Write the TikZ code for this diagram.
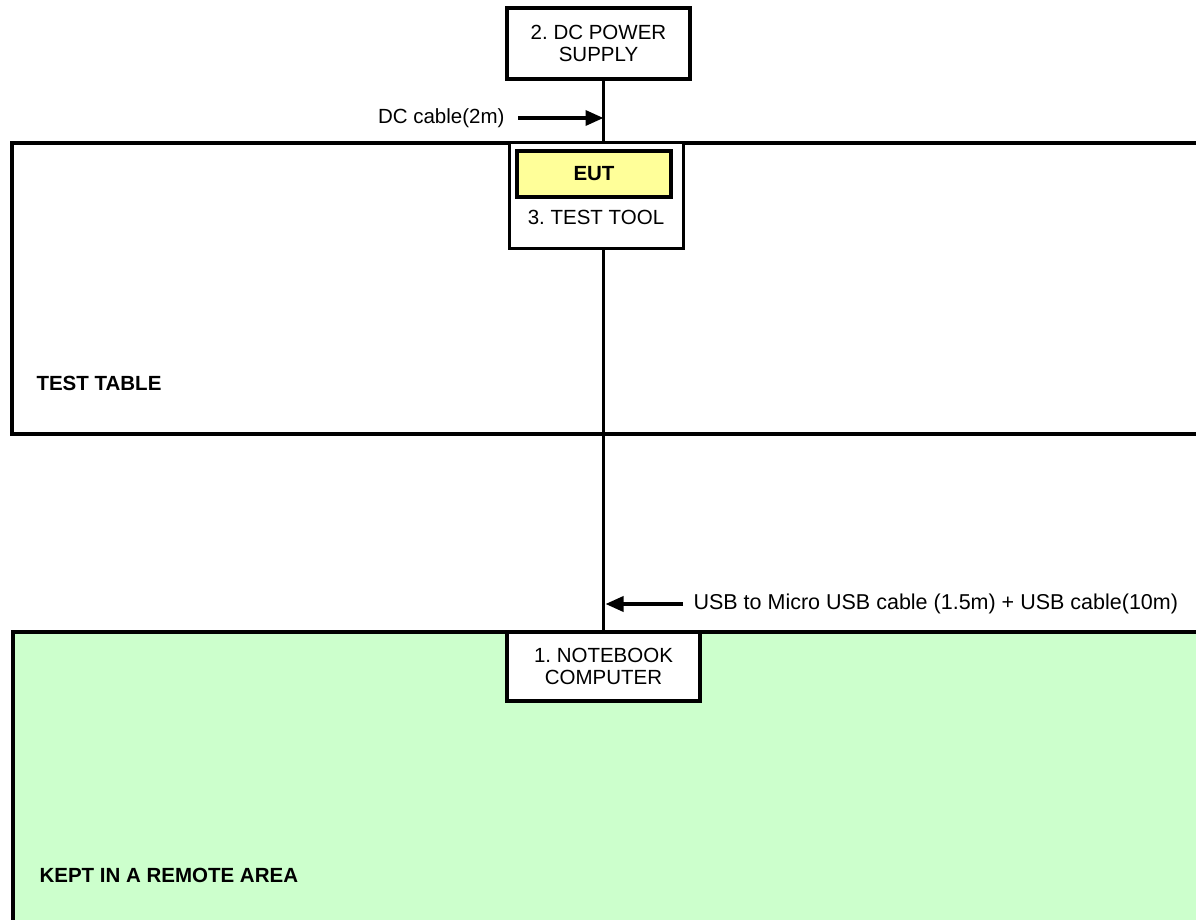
\documentclass[tikz,border=0pt]{standalone}
\usepackage{fontspec}
\setmainfont{Liberation Sans}
\usetikzlibrary{arrows.meta}
\definecolor{remotegreen}{HTML}{CCFFCC}
\definecolor{eutyellow}{HTML}{FFFF99}
\begin{document}
\frenchspacing
\begin{tikzpicture}[x=1pt,y=-1pt,
  every node/.style={font=\fontsize{20.5}{22}\selectfont},
  area/.style={line width=4.5pt},
  unitbox/.style={draw,line width=4pt,fill=white,inner sep=0pt,align=center},
  cable/.style={line width=3.5pt},
  pointer/.style={line width=3.5pt,-{Triangle[length=18pt,width=15pt]}},
  boldlabel/.style={font=\fontsize{20.5}{22}\selectfont\bfseries}]
\useasboundingbox (0,0) rectangle (1196,920);
\clip (0,0) rectangle (1196,920);
% areas
\draw[area] (12,143) rectangle (1215,434);
\draw[area,fill=remotegreen] (13,632) rectangle (1215,940);
\node[boldlabel,anchor=west] (tablelbl) at (33,383) {TEST TABLE};
\node[boldlabel,anchor=west] (remotelbl) at (36,875) {KEPT IN A REMOTE AREA};
% units
\node[unitbox,minimum width=183pt,minimum height=71pt] (ps) at (598.5,43.5) {2. DC POWER\\SUPPLY};
\node[unitbox,line width=3pt,minimum width=174pt,minimum height=105pt] (tool) at (596,195.5) {};
\node[unitbox,fill=eutyellow,minimum width=154pt,minimum height=46pt,font=\fontsize{20.5}{22}\selectfont\bfseries] (eut) at (594,174) {EUT};
\node (tooltxt) at (596,217) {3. TEST TOOL};
\node[unitbox,minimum width=193pt,minimum height=69pt] (nb) at (603.5,666.5) {1. NOTEBOOK\\COMPUTER};
% cables
\draw[cable] (ps.south -| nb.north) -- (tool.north -| nb.north);
\draw[cable] (tool.south -| nb.north) -- (nb.north);
% cable labels
\coordinate (dcstart) at (518,118);
\node[anchor=east] (dclbl) at (508,118) {DC cable(2m)};
\draw[pointer] (dcstart) -- (dcstart -| nb.north);
\coordinate (usbstart) at (683,604);
\node[anchor=west,font=\fontsize{21.5}{22}\selectfont] (usblbl) at (690,604) {USB to Micro USB cable (1.5m) + USB cable(10m)};
\draw[pointer] (usbstart) -- ([xshift=2pt]usbstart -| nb.north);
\end{tikzpicture}
\end{document}
